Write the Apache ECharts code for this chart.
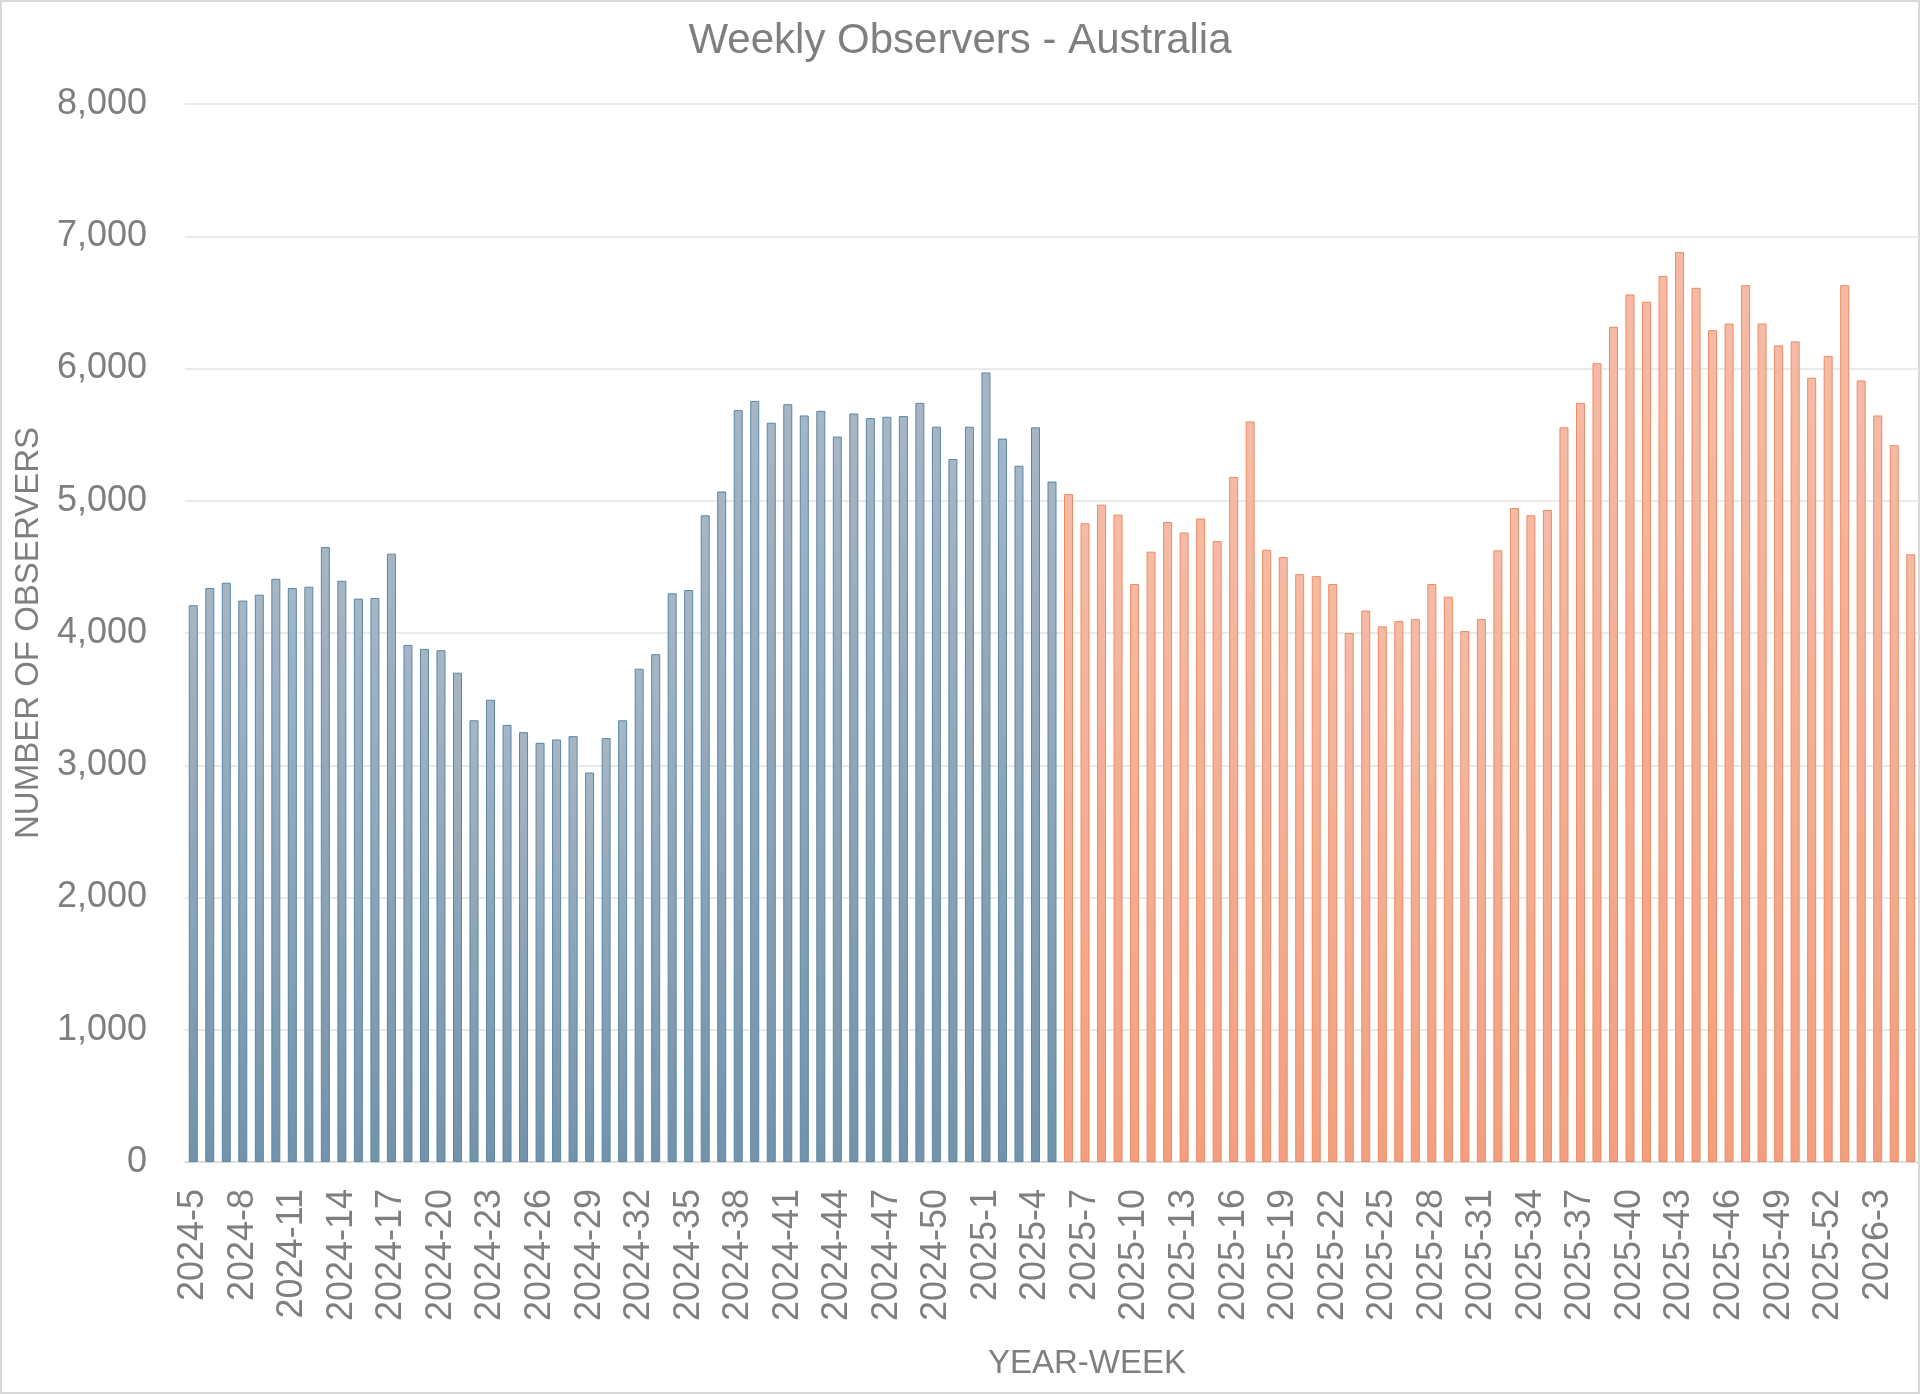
<!DOCTYPE html>
<html>
<head>
<meta charset="utf-8">
<script src="https://cdn.jsdelivr.net/npm/echarts@6/dist/echarts.min.js"></script>
<style>
html,body{margin:0;padding:0;background:#fff;}
#chart{width:1920px;height:1394px;}
</style>
</head>
<body>
<div id="chart"></div>
<script>
const categories = [
  "2024-5","2024-6","2024-7","2024-8","2024-9","2024-10","2024-11","2024-12","2024-13","2024-14",
  "2024-15","2024-16","2024-17","2024-18","2024-19","2024-20","2024-21","2024-22","2024-23","2024-24",
  "2024-25","2024-26","2024-27","2024-28","2024-29","2024-30","2024-31","2024-32","2024-33","2024-34",
  "2024-35","2024-36","2024-37","2024-38","2024-39","2024-40","2024-41","2024-42","2024-43","2024-44",
  "2024-45","2024-46","2024-47","2024-48","2024-49","2024-50","2024-51","2024-52",
  "2025-1","2025-2","2025-3","2025-4","2025-5","2025-6","2025-7","2025-8","2025-9","2025-10",
  "2025-11","2025-12","2025-13","2025-14","2025-15","2025-16","2025-17","2025-18","2025-19","2025-20",
  "2025-21","2025-22","2025-23","2025-24","2025-25","2025-26","2025-27","2025-28","2025-29","2025-30",
  "2025-31","2025-32","2025-33","2025-34","2025-35","2025-36","2025-37","2025-38","2025-39","2025-40",
  "2025-41","2025-42","2025-43","2025-44","2025-45","2025-46","2025-47","2025-48","2025-49","2025-50",
  "2025-51","2025-52",
  "2026-1","2026-2","2026-3","2026-4","2026-5"
];

// 2024-5 .. 2025-5 (previous period, blue)
const previousPeriod = [
  4210,4340,4380,4245,4290,4410,4340,4350,4650,4395,
  4260,4265,4600,3910,3880,3870,3700,3340,3495,3305,
  3250,3170,3195,3220,2945,3205,3340,3730,3840,4300,
  4325,4890,5070,5685,5755,5590,5730,5645,5680,5485,
  5660,5625,5635,5640,5740,5560,5315,5560,
  5970,5470,5265,5555,5145
];

// 2025-6 .. 2026-5 (latest 52 weeks, orange)
const latestPeriod = [
  5050,4830,4970,4895,4370,4615,4840,4760,4865,4695,
  5180,5600,4630,4575,4445,4430,4370,4000,4170,4050,
  4090,4105,4370,4275,4015,4105,4625,4945,4890,4930,
  5555,5740,6040,6315,6560,6505,6700,6880,6610,6290,
  6340,6630,6340,6175,6205,5930,6095,6630,5910,5645,
  5420,4595
];

const yTicks = [0,1000,2000,3000,4000,5000,6000,7000,8000];

const blueData = previousPeriod.concat(latestPeriod.map(() => '-'));
const orangeData = previousPeriod.map(() => '-').concat(latestPeriod);

const textColor = '#7f7f7f';
const font = '"Liberation Sans", Arial, sans-serif';

const chart = echarts.init(document.getElementById('chart'), null, {renderer: 'canvas'});
chart.setOption({
  animation: false,
  backgroundColor: '#ffffff',
  title: {
    text: 'Weekly Observers - Australia',
    left: 'center',
    top: 15,
    textStyle: {color: textColor, fontFamily: font, fontSize: 42, fontWeight: 'normal'}
  },
  graphic: [{
    type: 'rect',
    shape: {x: 1, y: 1, width: 1918, height: 1392},
    style: {fill: 'none', stroke: '#d9d9d9', lineWidth: 2},
    silent: true
  }],
  grid: {left: 185, right: 1, top: 104, bottom: 232, containLabel: false},
  xAxis: {
    type: 'category',
    data: categories,
    name: 'YEAR-WEEK',
    nameLocation: 'middle',
    nameGap: 185,
    nameTextStyle: {color: textColor, fontFamily: font, fontSize: 33, padding: [0, 0, 0, 70]},
    axisLine: {show: true, lineStyle: {color: '#d9d9d9', width: 1.5}},
    axisTick: {show: false},
    axisLabel: {
      interval: 2,
      rotate: 90,
      margin: 27,
      color: textColor,
      fontFamily: font,
      fontSize: 36
    }
  },
  yAxis: {
    type: 'value',
    min: yTicks[0],
    max: yTicks[yTicks.length - 1],
    interval: 1000,
    name: 'NUMBER OF OBSERVERS',
    nameLocation: 'middle',
    nameGap: 140,
    nameTextStyle: {color: textColor, fontFamily: font, fontSize: 33},
    axisLine: {show: false},
    axisTick: {show: false},
    splitLine: {lineStyle: {color: '#e3e3e3', width: 1.5}},
    axisLabel: {
      margin: 38,
      color: textColor,
      fontFamily: font,
      fontSize: 36,
      formatter: v => v.toLocaleString('en-US')
    }
  },
  series: [
    {
      name: 'Previous',
      type: 'bar',
      data: blueData,
      barWidth: 9,
      barGap: '-100%',
      itemStyle: {
        color: new echarts.graphic.LinearGradient(0, 0, 0, 1, [
          {offset: 0, color: '#a6b6c5'},
          {offset: 1, color: '#7393ab'}
        ]),
        borderColor: '#5a87a6',
        borderWidth: 1
      }
    },
    {
      name: 'Latest',
      type: 'bar',
      data: orangeData,
      barWidth: 9,
      barGap: '-100%',
      itemStyle: {
        color: new echarts.graphic.LinearGradient(0, 0, 0, 1, [
          {offset: 0, color: '#f5bba6'},
          {offset: 1, color: '#f39f7f'}
        ]),
        borderColor: '#ef8b61',
        borderWidth: 1
      }
    }
  ]
});
</script>
</body>
</html>
